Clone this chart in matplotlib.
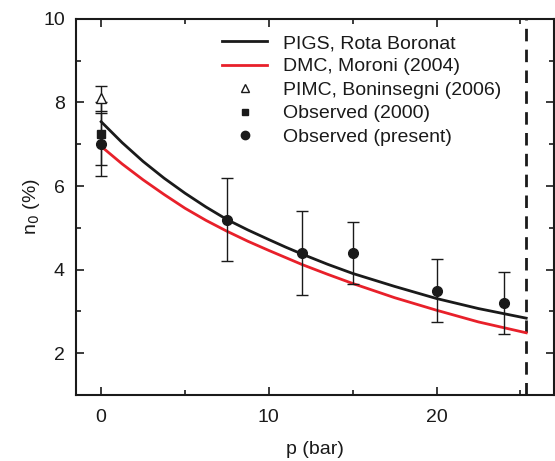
import matplotlib
matplotlib.use("Agg")
import matplotlib.pyplot as plt
from matplotlib.ticker import MultipleLocator
from matplotlib.lines import Line2D

plt.rcParams['font.family'] = ['Liberation Sans', 'DejaVu Sans']

# PIGS, Rota Boronat (black curve)
pigs_p = [0, 1.25, 2.5, 3.75, 5, 6.25, 7.5, 8.75, 10, 11, 12, 13.5, 15, 17.5, 20, 22.5, 25.35]
pigs_n = [7.54, 7.04, 6.59, 6.19, 5.83, 5.50, 5.20, 4.95, 4.72, 4.54, 4.37, 4.13, 3.91,
          3.60, 3.31, 3.07, 2.84]
# DMC, Moroni (2004) (red curve)
dmc_p = [0, 1.25, 2.5, 3.75, 5, 6.25, 7.5, 8.75, 10, 11, 12, 13.5, 15, 17.5, 20, 22.5, 25.35]
dmc_n = [6.95, 6.53, 6.15, 5.80, 5.47, 5.18, 4.92, 4.68, 4.46, 4.29, 4.12, 3.89, 3.67,
         3.33, 3.03, 2.75, 2.49]
# PIMC, Boninsegni (2006)
pimc_p = [0]
pimc_n = [8.1]
pimc_err = [0.3]
# Observed (2000)
obs2000_p = [0]
obs2000_n = [7.25]
obs2000_err = [0.75]
# Observed (present)
obs_p = [0, 7.5, 12, 15, 20, 24]
obs_n = [7.0, 5.2, 4.4, 4.4, 3.5, 3.2]
obs_err = [0.75, 1.0, 1.0, 0.75, 0.75, 0.75]
# solidification pressure
p_solid = 25.35

labels = ['PIGS, Rota Boronat', 'DMC, Moroni (2004)', 'PIMC, Boninsegni (2006)',
          'Observed (2000)', 'Observed (present)']

fig = plt.figure(figsize=(5.55, 4.61), dpi=100)
ax = fig.add_axes([0.137, 0.143, 0.861, 0.816])

black = '#1a1a1a'
red = '#e8202a'

ax.plot(pigs_p, pigs_n, color=black, lw=2.0, zorder=3)
ax.plot(dmc_p, dmc_n, color=red, lw=2.0, zorder=3)
ax.errorbar(pimc_p, pimc_n, yerr=pimc_err, fmt='^', mfc='white', mec=black,
            ms=7, mew=1.0, ecolor=black, elinewidth=1.0, capsize=4, capthick=1.0,
            zorder=4)
ax.errorbar(obs2000_p, obs2000_n, yerr=obs2000_err, fmt='s', color=black,
            ms=6, ecolor=black, elinewidth=1.0, capsize=4, capthick=1.0, zorder=4)
ax.errorbar(obs_p, obs_n, yerr=obs_err, fmt='o', color=black,
            ms=7, ecolor=black, elinewidth=1.0, capsize=4, capthick=1.0, zorder=5)
ax.axvline(p_solid, color=black, lw=2.0, ls=(0, (4.5, 3)), zorder=2)

ax.set_xlim(-1.5, 27)
ax.set_ylim(1, 10)
ax.xaxis.set_major_locator(MultipleLocator(10))
ax.xaxis.set_minor_locator(MultipleLocator(5))
ax.yaxis.set_minor_locator(MultipleLocator(1))
ax.set_yticks([2, 4, 6, 8, 10])
ax.tick_params(which='both', direction='in', top=True, right=True, width=1.2,
               labelsize=14, colors=black)
ax.tick_params(axis='x', which='major', length=6, pad=10)
ax.tick_params(axis='y', which='major', length=6, pad=8)
ax.tick_params(which='minor', length=3.5)
for s in ax.spines.values():
    s.set_linewidth(1.5)
    s.set_color(black)

ax.set_xlabel('p (bar)', fontsize=14, labelpad=11, color=black)
ax.set_ylabel('n$_0$ (%)', fontsize=14, labelpad=1, color=black)

h = [
    Line2D([], [], color=black, lw=2.0),
    Line2D([], [], color=red, lw=2.0),
    Line2D([], [], ls='none', marker='^', mfc='white', mec=black, ms=6, mew=1.0),
    Line2D([], [], ls='none', marker='s', color=black, ms=5),
    Line2D([], [], ls='none', marker='o', color=black, ms=6),
]
leg = ax.legend(h, labels, loc='upper left', bbox_to_anchor=(0.278, 0.995),
                frameon=False, fontsize=14, handlelength=2.3, handletextpad=0.8,
                labelspacing=0.3, borderaxespad=0.3)
for t in leg.get_texts():
    t.set_color(black)

fig.savefig('out.png', dpi=100)
